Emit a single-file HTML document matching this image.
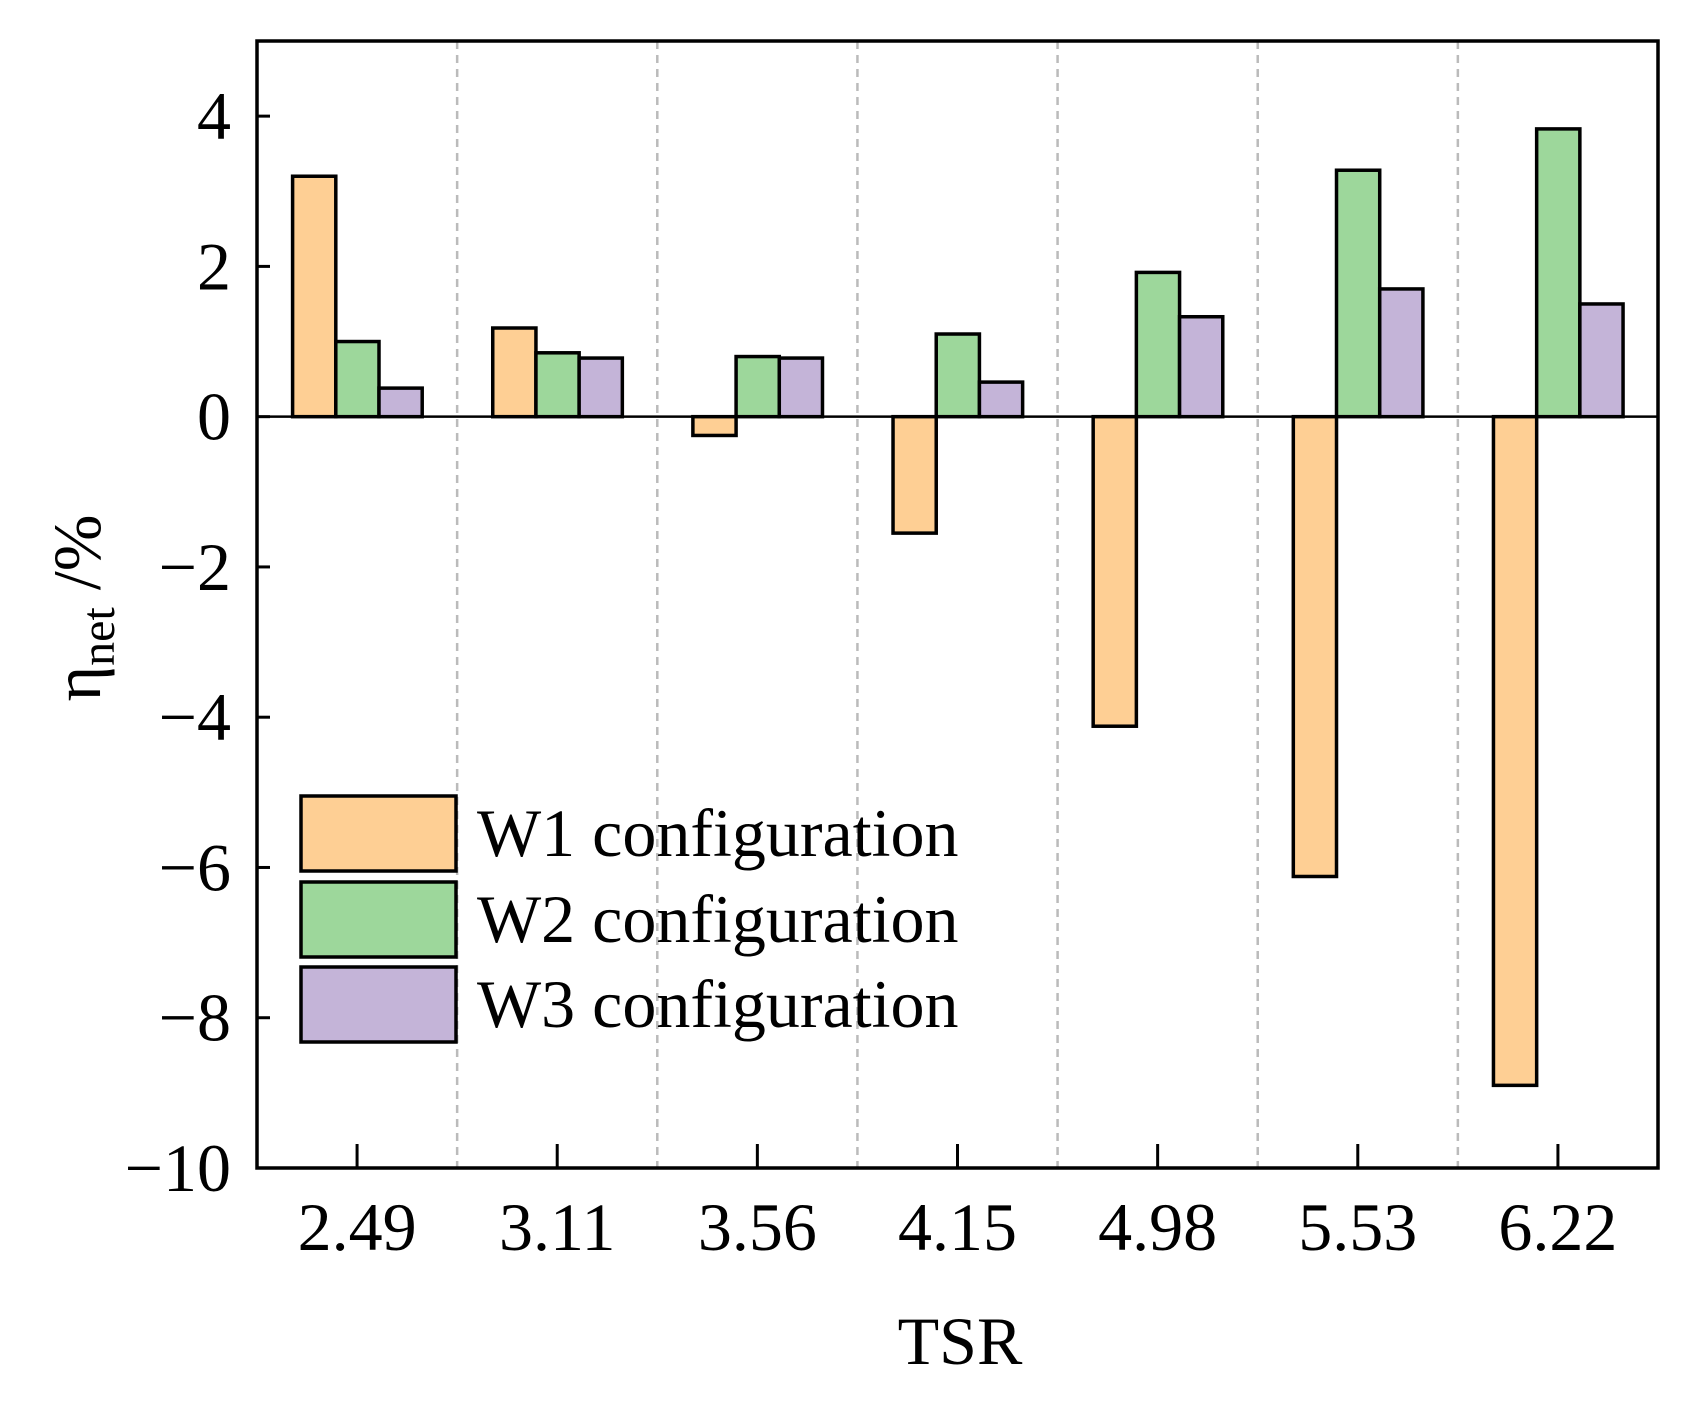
<!DOCTYPE html>
<html><head><meta charset="utf-8"><style>
body{margin:0;background:#fff}
svg text{font-family:"Liberation Serif",serif;fill:#000}
</style></head><body>
<svg id="c" width="1693" height="1398"></svg>
<script>
const categories=["2.49","3.11","3.56","4.15","4.98","5.53","6.22"];
const w1=[3.2,1.18,-0.25,-1.55,-4.12,-6.12,-8.9];
const w2=[1.0,0.85,0.8,1.1,1.92,3.28,3.83];
const w3=[0.38,0.78,0.78,0.46,1.33,1.7,1.5];
const yTicks=[4,2,0,-2,-4,-6,-8,-10];
const seriesNames=["W1 configuration","W2 configuration","W3 configuration"];
const colors=["#fecf94","#9dd79b","#c4b4d8"];
const L=257,R=1658,T=41,B=1168,ymin=-10,ymax=5;
const gw=(R-L)/categories.length,bw=43.2,off=35.6;
const y=v=>T+(ymax-v)/(ymax-ymin)*(B-T);
const svg=document.getElementById('c');const NS="http://www.w3.org/2000/svg";
function mk(t,a,txt){const e=document.createElementNS(NS,t);for(const k in a)e.setAttribute(k,a[k]);if(txt!=null)e.textContent=txt;svg.appendChild(e);return e;}
for(let i=1;i<categories.length;i++){const e=mk('line',{x1:L+i*gw,x2:L+i*gw,y1:T,y2:B,stroke:'#bbb','stroke-width':2.5,'stroke-dasharray':'8,6'});

}
const series=[w1,w2,w3];
series.forEach((s,si)=>s.forEach((v,i)=>{const x=L+i*gw+off+si*bw;const y0=y(0),yv=y(v);
const r=mk('rect',{x:x,y:Math.min(y0,yv),width:bw,height:Math.abs(yv-y0),fill:colors[si],stroke:'#000','stroke-width':3.5});

}));
const z=mk('line',{x1:L,x2:R,y1:y(0),y2:y(0),stroke:'#000','stroke-width':2.5});


yTicks.forEach(t=>{mk('line',{x1:L,x2:L+13,y1:y(t),y2:y(t),stroke:'#000','stroke-width':3});
const e=mk('text',{x:231,y:y(t)+23,'text-anchor':'end','font-size':68},(t<0?'\u2212':'')+Math.abs(t));

});
categories.forEach((c,i)=>{const cx=L+(i+0.5)*gw;mk('line',{x1:cx,x2:cx,y1:B,y2:B-24,stroke:'#000','stroke-width':3});
const e=mk('text',{x:cx,y:1250,'text-anchor':'middle','font-size':68},c);

});
const fr=mk('rect',{x:L,y:T,width:R-L,height:B-T,fill:'none',stroke:'#000','stroke-width':3.5});


const xt=mk('text',{x:960,y:1364,'text-anchor':'middle','font-size':68},'TSR');


const yt=mk('text',{transform:'translate(100,608) rotate(-90)','text-anchor':'middle','font-size':68});


yt.innerHTML='η<tspan font-size="48" dy="14">net</tspan><tspan dy="-14"> /%</tspan>';
const ly=[796,882,967];
seriesNames.forEach((n,i)=>{const r=mk('rect',{x:301,y:ly[i],width:155,height:75,fill:colors[i],stroke:'#000','stroke-width':3.5});


const t=mk('text',{x:477,y:ly[i]+60,'font-size':68},n);

});
</script>
</body></html>
